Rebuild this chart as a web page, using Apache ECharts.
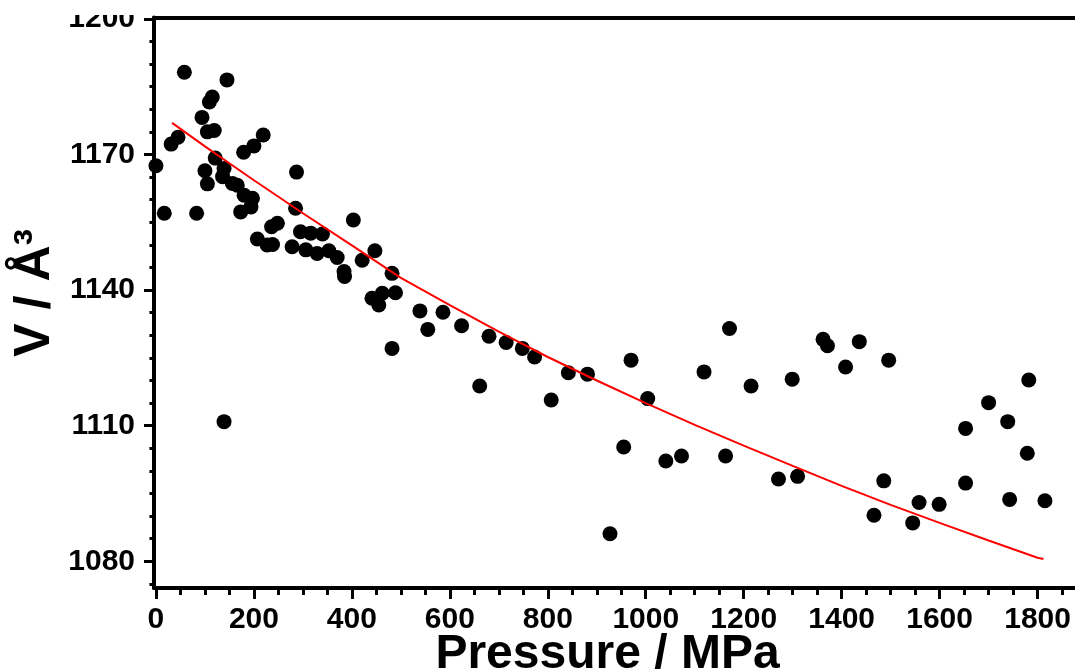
<!DOCTYPE html>
<html><head><meta charset="utf-8">
<script src="https://cdn.jsdelivr.net/npm/echarts@6/dist/echarts.min.js"></script>
<style>html,body{margin:0;padding:0;background:#fff}#c{width:1075px;height:671px}</style>
</head><body><div id="c"></div>
<script>
// Measured points: pressure (MPa) and unit-cell volume (Å^3)
const pressure = [0,17,31,45,58,83,94,100,105,105,109,115,119,121,136,139,139,145,156,166,173,179,180,194,197,200,207,219,227,236,238,248,278,285,287,295,306,316,329,340,353,370,384,385,403,421,441,447,455,462,482,482,489,539,555,586,624,661,680,715,748,773,807,842,881,927,955,970,1004,1041,1073,1119,1163,1171,1215,1271,1299,1310,1362,1371,1408,1436,1466,1486,1496,1545,1558,1599,1653,1653,1700,1739,1743,1779,1782,1815];
const volume = [1167.5,1157.0,1172.3,1173.8,1188.2,1157.0,1178.2,1166.4,1175.0,1163.5,1181.6,1182.7,1175.3,1169.2,1165.1,1166.9,1110.9,1186.5,1163.6,1163.2,1157.3,1170.5,1161.0,1158.4,1160.3,1171.9,1151.3,1174.3,1150.0,1154.0,1150.1,1154.8,1149.6,1158.1,1166.1,1152.9,1148.9,1152.6,1148.1,1152.4,1148.7,1147.2,1144.1,1143.0,1155.5,1146.6,1138.2,1148.7,1136.7,1139.3,1143.7,1127.1,1139.4,1135.4,1131.3,1135.1,1132.1,1118.8,1129.8,1128.4,1127.1,1125.2,1115.7,1121.7,1121.4,1086.1,1105.3,1124.5,1116.0,1102.2,1103.3,1121.9,1103.3,1131.5,1118.8,1098.2,1120.3,1098.8,1129.1,1127.7,1123.0,1128.6,1090.2,1097.8,1124.5,1088.5,1093.0,1092.6,1109.4,1097.3,1115.1,1110.9,1093.7,1103.9,1120.1,1093.4];
// Fitted curve
const fitPressure = [33,100,200,300,400,500,600,700,800,900,1000,1100,1200,1300,1400,1500,1600,1700,1800,1812];
const fitVolume = [1177.0,1171.8,1164.3,1157.0,1149.9,1142.7,1136.7,1130.8,1125.2,1120.0,1115.0,1110.2,1105.6,1101.1,1096.7,1092.5,1088.5,1084.6,1080.8,1080.5];
// Tick values
const xMajorTicks = [0,200,400,600,800,1000,1200,1400,1600,1800];
const xMinorTicks = [50,100,150,250,300,350,450,500,550,650,700,750,850,900,950,1050,1100,1150,1250,1300,1350,1450,1500,1550,1650,1700,1750,1850];
const yMajorTicks = [1080,1110,1140,1170,1200];
const yMinorTicks = [1075,1085,1090,1095,1100,1105,1115,1120,1125,1130,1135,1145,1150,1155,1160,1165,1175,1180,1185,1190,1195];

const X_MIN = -4, X_MAX = 1876.4, Y_MIN = 1074.1, Y_MAX = 1200.3;
const FONT = 'Liberation Sans';
const black = '#000';
const plain = v => String(v);

const chart = echarts.init(document.getElementById('c'));
const hidden = {axisLine:{show:false}, axisLabel:{show:false}, axisTick:{show:false}, splitLine:{show:false}};
chart.setOption({
  animation: false,
  backgroundColor: '#fff',
  grid: {left: 154, right: 0, top: 17.5, bottom: 83, outerBoundsMode: 'none'},
  xAxis: [
    {type:'value', position:'bottom', min:X_MIN, max:X_MAX,
     name:'Pressure / MPa', nameLocation:'middle', nameGap:43, nameMoveOverlap:false,
     nameTextStyle:{fontFamily:FONT, fontWeight:'bold', fontSize:48, color:black, padding:[0,14,0,0]},
     axisLine:{onZero:false, lineStyle:{color:black, width:4}},
     axisTick:{customValues:xMajorTicks, length:11, lineStyle:{color:black, width:3}},
     axisLabel:{customValues:xMajorTicks, formatter:plain, margin:17, fontFamily:FONT, fontWeight:'bold', fontSize:30, color:black},
     splitLine:{show:false}},
    Object.assign({}, hidden, {type:'value', position:'bottom', min:X_MIN, max:X_MAX,
     axisTick:{show:true, customValues:xMinorTicks, length:7, lineStyle:{color:black, width:3}}}),
    Object.assign({}, hidden, {type:'value', position:'top', min:X_MIN, max:X_MAX,
     axisLine:{show:true, onZero:false, lineStyle:{color:black, width:4}}})
  ],
  yAxis: [
    {type:'value', position:'left', min:Y_MIN, max:Y_MAX,
     name:'V / Å³', nameLocation:'middle', nameGap:94, nameMoveOverlap:false,
     nameTextStyle:{fontFamily:FONT, fontWeight:'bold', fontSize:50, color:black, padding:[0,0,0,20]},
     axisLine:{onZero:false, lineStyle:{color:black, width:4}},
     axisTick:{customValues:yMajorTicks, length:10, lineStyle:{color:black, width:3}},
     axisLabel:{customValues:yMajorTicks, formatter:plain, margin:19, fontFamily:FONT, fontWeight:'bold', fontSize:30, color:black},
     splitLine:{show:false}},
    Object.assign({}, hidden, {type:'value', position:'left', min:Y_MIN, max:Y_MAX,
     axisTick:{show:true, customValues:yMinorTicks, length:6.5, lineStyle:{color:black, width:3}}})
  ],
  graphic: [{type:'rect', left:0, top:0, z:100, shape:{width:150, height:15}, style:{fill:'#fff'}}],
  series: [
    {type:'scatter', xAxisIndex:0, yAxisIndex:0, symbol:'circle', symbolSize:15,
     itemStyle:{color:black, opacity:1}, data: pressure.map((p,i)=>[p, volume[i]]), z:2},
    {type:'line', xAxisIndex:0, yAxisIndex:0, showSymbol:false, smooth:false,
     lineStyle:{color:'#ff0000', width:2}, data: fitPressure.map((p,i)=>[p, fitVolume[i]]), z:3}
  ]
});
</script></body></html>
